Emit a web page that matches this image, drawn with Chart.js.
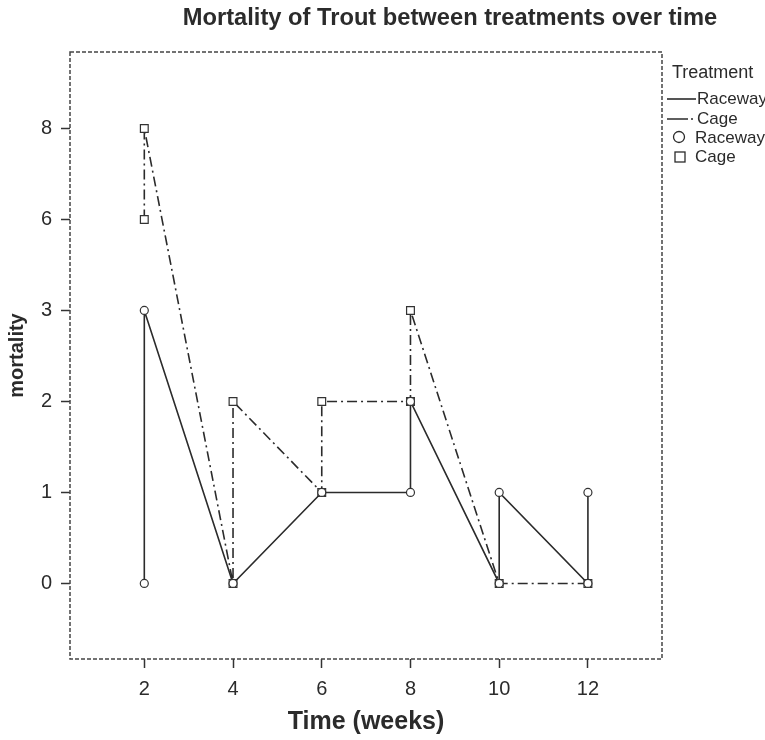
<!DOCTYPE html>
<html>
<head>
<meta charset="utf-8">
<script src="https://cdn.jsdelivr.net/npm/chart.js@4.4.0/dist/chart.umd.min.js"></script>
<style>
  body { margin: 0; background: #fff; }
</style>
</head>
<body>
<canvas id="trout-chart" width="765" height="740"></canvas>
<script>
// mortality levels shown on the y axis (spaced evenly, like the original)
const mortalityLevels = [0, 1, 2, 3, 6, 8];
const weekTicks = [2, 4, 6, 8, 10, 12];

const racewayWeeks = [2, 2, 4, 6, 8, 8, 10, 10, 12, 12];
const racewayMortality = [0, 3, 0, 1, 1, 2, 0, 1, 0, 1];
const cageWeeks = [2, 2, 4, 4, 6, 6, 8, 8, 10, 12];
const cageMortality = [6, 8, 0, 2, 1, 2, 2, 3, 0, 0];

const chartTitle = "Mortality of Trout between treatments over time";
const legendTitle = "Treatment";
const legendLabels = ["Raceway", "Cage", "Raceway", "Cage"];

function start() {
    const font = '"Liberation Sans", Arial, sans-serif';
    const ink = "#2b2b2b";
    Chart.defaults.font.family = font;
    Chart.defaults.color = ink;

    function toPoints(weeks, values) {
        return weeks.map((w, i) => ({ x: w, y: mortalityLevels.indexOf(values[i]) }));
    }

    // dashed box round the plot area
    const framePlugin = {
        id: "frame",
        beforeDatasetsDraw(chart) {
            const { ctx, chartArea: a } = chart;
            ctx.save();
            ctx.strokeStyle = "#444";
            ctx.lineWidth = 1.5;
            ctx.setLineDash([4, 2]);
            ctx.strokeRect(a.left, a.top, a.right - a.left, a.bottom - a.top);
            ctx.restore();
        }
    };

    // title and the legend on the right
    const textPlugin = {
        id: "texts",
        afterDraw(chart) {
            const ctx = chart.ctx;
            ctx.save();
            ctx.fillStyle = ink;
            ctx.textBaseline = "middle";
            ctx.textAlign = "center";
            ctx.font = "bold 23.7px " + font;
            ctx.fillText(chartTitle, 450, 18);

            ctx.textAlign = "left";
            ctx.font = "18px " + font;
            ctx.fillText(legendTitle, 672, 73);

            ctx.font = "17px " + font;
            ctx.strokeStyle = ink;
            ctx.lineWidth = 1.6;
            // line samples
            ctx.beginPath();
            ctx.moveTo(667, 99); ctx.lineTo(696, 99);
            ctx.stroke();
            ctx.setLineDash([21, 3, 2, 3]);
            ctx.beginPath();
            ctx.moveTo(667, 119); ctx.lineTo(696, 119);
            ctx.stroke();
            ctx.setLineDash([]);
            // marker samples
            ctx.lineWidth = 1.3;
            ctx.beginPath();
            ctx.arc(679, 137, 5.5, 0, Math.PI * 2);
            ctx.stroke();
            ctx.strokeRect(675, 152, 10, 10);

            ctx.fillText(legendLabels[0], 697, 99);
            ctx.fillText(legendLabels[1], 697, 119);
            ctx.fillText(legendLabels[2], 695, 138);
            ctx.fillText(legendLabels[3], 695, 157);
            ctx.restore();
        }
    };

    const ctx = document.getElementById("trout-chart").getContext("2d");
    new Chart(ctx, {
        type: "scatter",
        data: {
            datasets: [
                {
                    label: legendLabels[0],
                    data: toPoints(racewayWeeks, racewayMortality),
                    showLine: true,
                    borderColor: ink,
                    borderWidth: 1.6,
                    pointStyle: "circle",
                    pointRadius: 4,
                    pointBackgroundColor: "#fff",
                    pointBorderColor: "#333",
                    pointBorderWidth: 1.2
                },
                {
                    label: legendLabels[1],
                    data: toPoints(cageWeeks, cageMortality),
                    showLine: true,
                    borderColor: ink,
                    borderWidth: 1.6,
                    borderDash: [10, 4, 2, 4],
                    pointStyle: "rect",
                    pointRadius: 5.5,
                    pointBackgroundColor: "#fff",
                    pointBorderColor: "#333",
                    pointBorderWidth: 1.2
                }
            ]
        },
        options: {
            responsive: false,
            animation: false,
            layout: { padding: { top: 52, right: 103 } },
            plugins: {
                legend: { display: false },
                tooltip: { enabled: false }
            },
            scales: {
                x: {
                    type: "linear",
                    min: 0.325,
                    max: 13.67,
                    afterBuildTicks: (scale) => { scale.ticks = weekTicks.map(v => ({ value: v })); },
                    afterFit: (scale) => { scale.height = 81; },
                    border: { display: false },
                    grid: { drawOnChartArea: false, drawTicks: true, tickLength: 9, tickColor: "#333", tickWidth: 1.5 },
                    ticks: { font: { size: 20 }, padding: 9, color: ink, maxRotation: 0 },
                    title: { display: true, text: "Time (weeks)", font: { size: 25, weight: "bold" }, padding: { top: 0, bottom: 3 }, color: ink }
                },
                y: {
                    type: "linear",
                    min: -0.83,
                    max: 5.84,
                    afterBuildTicks: (scale) => { scale.ticks = mortalityLevels.map((v, i) => ({ value: i })); },
                    afterFit: (scale) => { scale.width = 70; },
                    border: { display: false },
                    grid: { drawOnChartArea: false, drawTicks: true, tickLength: 9, tickColor: "#333", tickWidth: 1.5 },
                    ticks: {
                        font: { size: 20 },
                        padding: 9,
                        color: ink,
                        callback: (value) => String(mortalityLevels[value])
                    },
                    title: { display: true, text: "mortality", font: { size: 20, weight: "bold" }, padding: { top: 5, bottom: 0 }, color: ink }
                }
            }
        },
        plugins: [framePlugin, textPlugin]
    });
}

window.addEventListener('load', start, false);
</script>
</body>
</html>
